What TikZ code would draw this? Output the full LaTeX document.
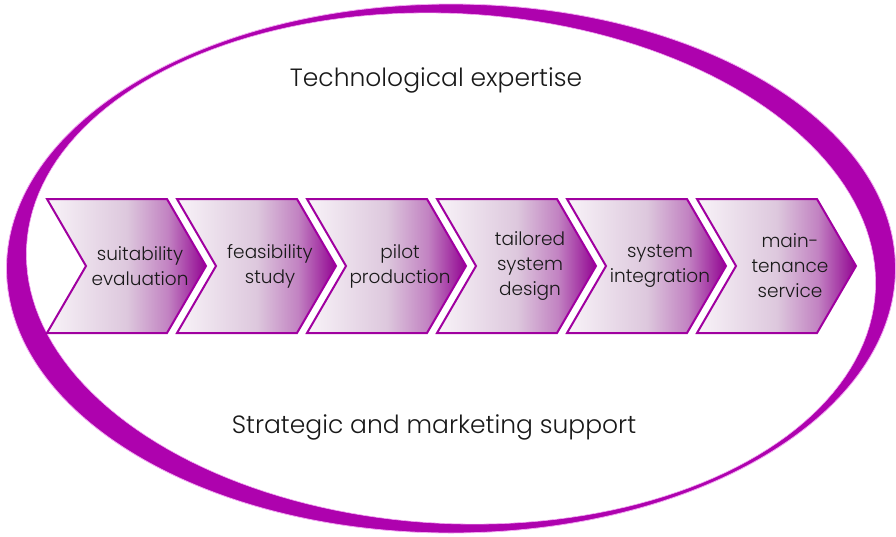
\documentclass[tikz,border=0pt]{standalone}
\usepackage{fontspec}
\setmainfont{Poppins}[UprightFont=* Light]
\definecolor{ringpurple}{HTML}{AE02AE}
\definecolor{ringpink}{HTML}{F2A8F2}
\definecolor{chevline}{HTML}{A000A0}
\definecolor{chevL}{HTML}{F8F3F8}
\definecolor{chevM}{HTML}{DDC8DD}
\definecolor{chevN}{HTML}{C283C2}
\definecolor{chevR}{HTML}{920592}
\pgfdeclarehorizontalshading{chevshade}{100bp}{color(0bp)=(chevL); color(25bp)=(chevL); color(50bp)=(chevM); color(63bp)=(chevN); color(75bp)=(chevR); color(100bp)=(chevR)}
\tikzset{
    chevron/.style={draw=chevline, line width=2pt, shading=chevshade},
    steplabel/.style={align=center, text=black!90, font=\fontsize{18.5}{25}\selectfont},
    bigtext/.style={text=black!90, font=\fontsize{25}{30}\selectfont}
}

\begin{document}
\begin{tikzpicture}[x=1pt,y=-1pt]
    \useasboundingbox (0,0) rectangle (896,536);
    \fill[ringpurple, even odd rule] (451,268.5) ellipse [x radius=444.5, y radius=264.5]
        plot[variable=\t, domain=0:360, samples=181] ({451+425*cos(\t)*cos(3)-255*sin(\t)*sin(3)}, {268.5+425*cos(\t)*sin(3)+255*sin(\t)*cos(3)}) -- cycle;
    \draw[ringpink, line width=0.6pt] plot[variable=\t, domain=0:360, samples=181] ({451+425*cos(\t)*cos(3)-255*sin(\t)*sin(3)}, {268.5+425*cos(\t)*sin(3)+255*sin(\t)*cos(3)}) -- cycle;
    \draw[ringpink, line width=0.8pt] (451,268.5) ellipse [x radius=444.5, y radius=264.5];

    \node[bigtext] (tech) at (436,80) {Technological expertise};
    \node[bigtext] (strat) at (434,427) {Strategic and marketing support};

    \foreach \i/\txt in {1/{suitability\\evaluation}, 2/{feasibility\\study}, 3/{pilot\\production},
        4/{tailored\\system\\design}, 5/{system\\integration}, 6/{main-\\tenance\\service}} {
        \pgfmathsetmacro\xs{47+130*(\i-1)}
        \draw[chevron] (\xs,199) -- ++(120,0) -- ++(39,67) -- ++(-39,67) -- ++(-120,0) -- ++(39,-67) -- cycle;
        \node[steplabel] (step\i) at (\xs+93,266) {\txt};
    }
\end{tikzpicture}
\end{document}
